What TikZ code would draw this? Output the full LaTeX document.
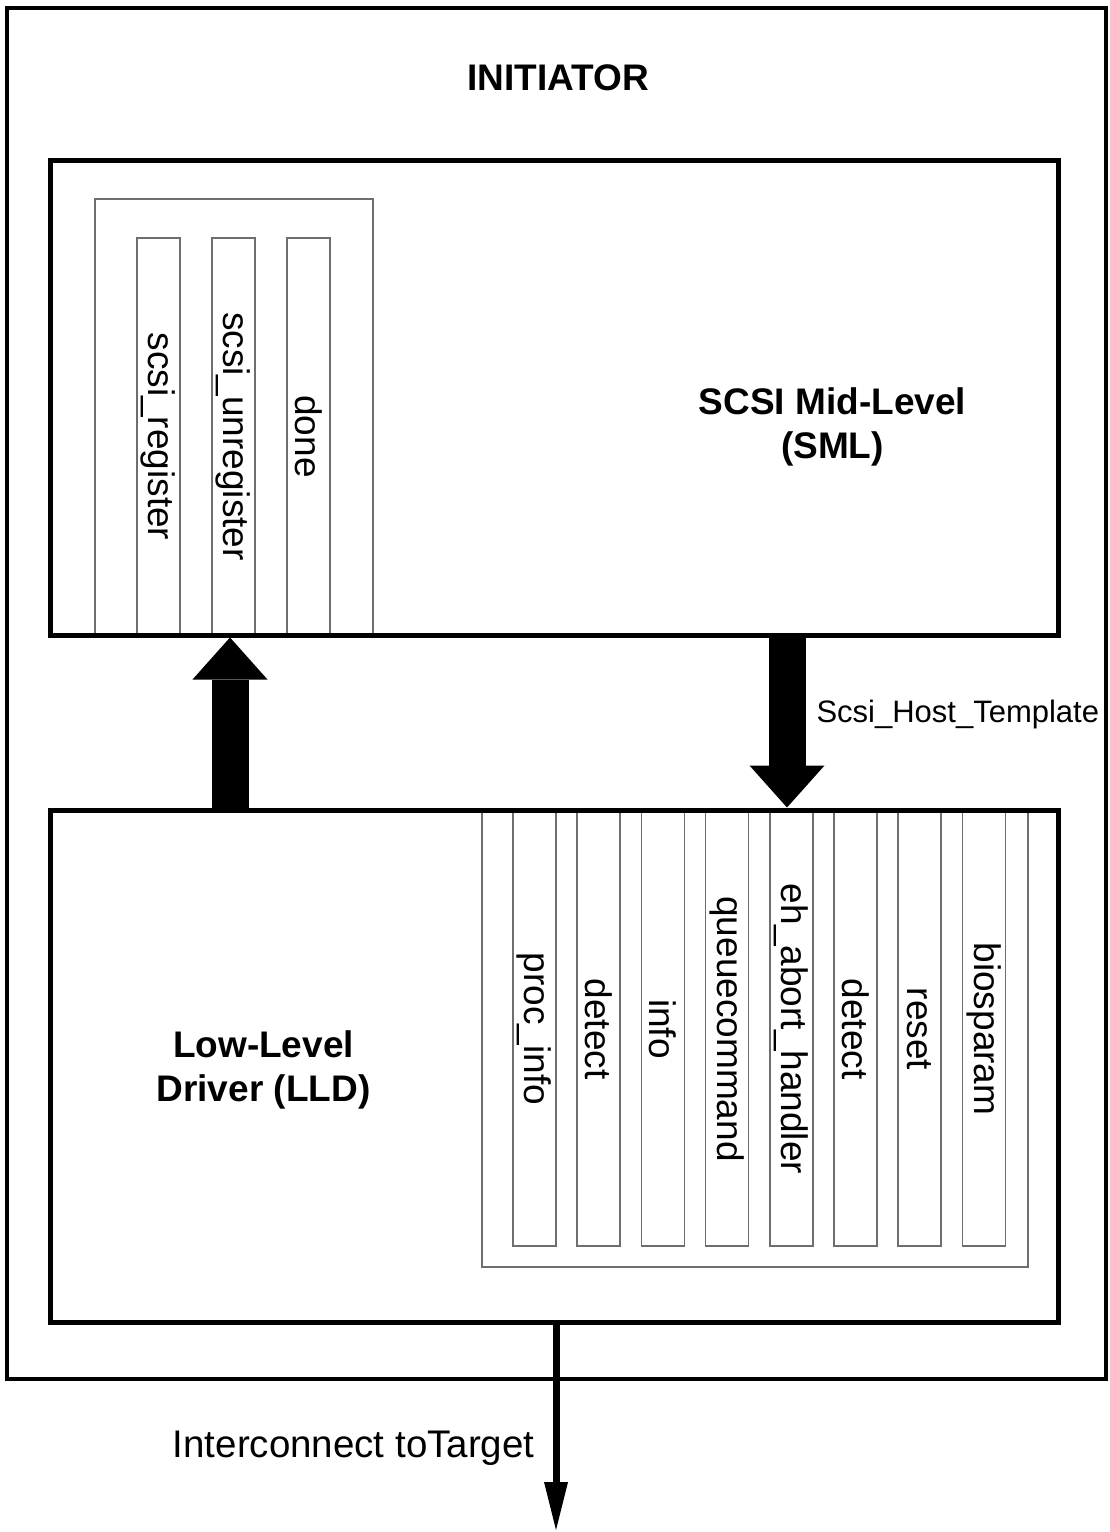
\documentclass[tikz,border=0pt]{standalone}
\usepackage{fontspec}
\setmainfont{Liberation Sans}
\usetikzlibrary{arrows.meta,fit}
\definecolor{ink}{HTML}{000000}
\definecolor{tray}{HTML}{6E6E6E}
\tikzset{
  frame/.style={draw=ink,line width=4.5pt,inner sep=0pt},
  layer/.style={draw=ink,line width=5pt,inner sep=0pt},
  trayline/.style={draw=tray,line width=1.6pt},
  slot/.style={draw=tray,line width=1.6pt,rotate=-90,inner sep=0pt,minimum height=43pt,font=\fontsize{37}{44}\selectfont},
  head/.style={align=center,font=\bfseries\fontsize{37}{44.5}\selectfont,text=ink},
  lbl/.style={inner sep=0pt,font=\fontsize{38.5}{44}\selectfont,text=ink},
  lblsm/.style={inner sep=0pt,font=\fontsize{31}{36}\selectfont,text=ink},
  bigar/.style={-{Triangle[length=42pt,width=75pt,line width=0pt]},draw=ink,line width=37pt},
  wirear/.style={-{Triangle[length=48pt,width=24pt,line width=0pt]},draw=ink,line width=7pt},
}
\begin{document}
\begin{tikzpicture}[x=1pt,y=-1pt]
  \useasboundingbox (0,0) rectangle (1109,1532);
  % ── initiator frame ──
  \node[frame,fit={(7,8) (1106,1379)}] (initiator) {};
  \node[head] (init) at (558,78) {INITIATOR};
  % ── mid-level exports ──
  \draw[trayline] (95,199) rectangle (373,635);
  \node[slot,minimum width=397pt] (reg) at (158.5,436.5) {scsi\_register};
  \node[slot,minimum width=397pt] (unreg) at (233.5,436.5) {scsi\_unregister};
  \node[slot,minimum width=397pt] (done) at (308.5,436.5) {done};
  % ── host template entries ──
  \draw[trayline] (482,812) rectangle (1028,1267);
  \foreach \nm [count=\i from 0] in {proc\_info,detect,info,queuecommand,eh\_abort\_handler,detect,reset,biosparam}
    \node[slot,minimum width=434pt] (tpl\i) at ({534.5+64.2*\i},1029) {\nm};
  % ── layers ──
  \node[layer,fit={(50,160) (1058,635)}] (sml) {};
  \node[head] (smlname) at (832.5,427) {SCSI Mid-Level\\(SML)};
  \node[layer,fit={(50,810) (1058,1322)}] (lld) {};
  \node[head] (lldname) at (263.5,1070) {Low-Level\\Driver (LLD)};
  % ── arrows ──
  \coordinate (upx) at (230,0);
  \coordinate (dnx) at (787,0);
  \coordinate (outx) at (556,0);
  \coordinate (target) at (556,1530);
  \draw[bigar] (upx |- lld.north) -- (upx |- sml.south);
  \draw[bigar] (dnx |- sml.south) -- (dnx |- lld.north)
    node[lblsm,anchor=west,pos=0.45,xshift=11pt] (tmpl) {Scsi\_Host\_Template};
  \draw[wirear] (outx |- lld.south) -- (target)
    node[lbl,anchor=east,pos=0.6,xshift=-18pt] (ict) {Interconnect toTarget};
\end{tikzpicture}
\end{document}
